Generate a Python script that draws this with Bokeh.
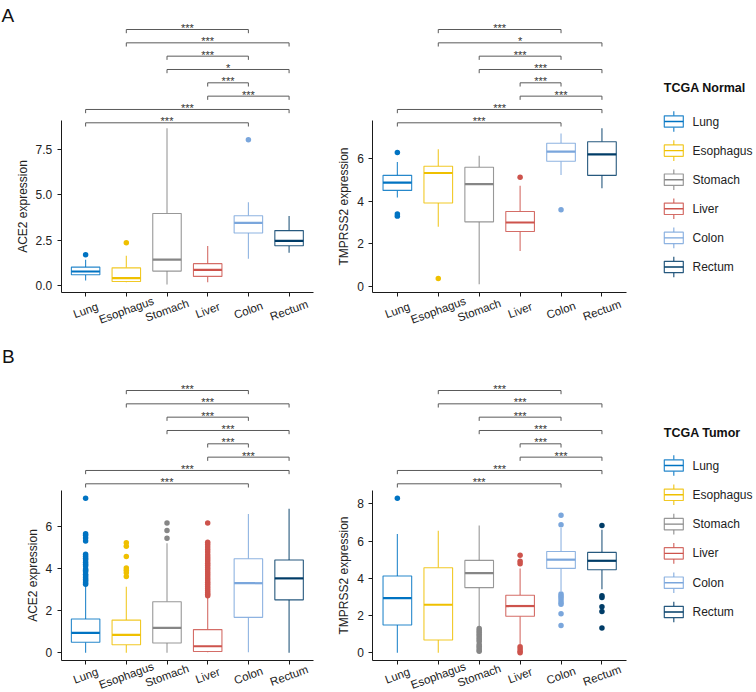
import numpy as np
from bokeh.plotting import figure
from bokeh.models import Range1d, FixedTicker, ColumnDataSource
from bokeh.layouts import row, column
from bokeh.embed import file_html
from bokeh.resources import INLINE
from bokeh.core.properties import value

# ------------------------------------------------------------------ data
tissues = ["Lung", "Esophagus", "Stomach", "Liver", "Colon", "Rectum"]

# pairwise comparisons (same order in every panel, top bracket first)
comp_a = ["Esophagus", "Esophagus", "Stomach", "Stomach", "Liver", "Liver", "Lung", "Lung"]
comp_b = ["Colon", "Rectum", "Colon", "Rectum", "Colon", "Rectum", "Rectum", "Colon"]

# A - TCGA Normal - ACE2
ace2_normal_lower = [0.28, 0.18, 0.06, 0.18, 1.47, 1.80]
ace2_normal_q1 = [0.59, 0.22, 0.79, 0.50, 2.89, 2.19]
ace2_normal_median = [0.77, 0.40, 1.42, 0.86, 3.44, 2.45]
ace2_normal_q3 = [1.01, 0.97, 3.96, 1.20, 3.84, 3.02]
ace2_normal_upper = [1.42, 1.64, 8.65, 2.17, 4.58, 3.83]
ace2_normal_out_tissue = ["Lung", "Esophagus", "Colon"]
ace2_normal_out_value = [1.69, 2.35, 8.02]
ace2_normal_sig = ["***", "***", "***", "*", "***", "***", "***", "***"]
ace2_normal_yticks = [0, 2.5, 5.0, 7.5]
ace2_normal_ytick_labels = ["0.0", "2.5", "5.0", "7.5"]
ace2_normal_ylim = [-0.37, 9.08]

# A - TCGA Normal - TMPRSS2
tmprss2_normal_lower = [4.17, 2.79, 0.08, 1.65, 5.23, 4.60]
tmprss2_normal_q1 = [4.50, 3.91, 3.02, 2.57, 5.87, 5.21]
tmprss2_normal_median = [4.87, 5.32, 4.80, 2.99, 6.33, 6.20]
tmprss2_normal_q3 = [5.21, 5.64, 5.59, 3.51, 6.72, 6.79]
tmprss2_normal_upper = [5.84, 6.44, 6.13, 4.72, 7.18, 7.42]
tmprss2_normal_out_tissue = ["Lung", "Lung", "Lung", "Esophagus", "Liver", "Colon"]
tmprss2_normal_out_value = [6.28, 3.39, 3.29, 0.35, 5.12, 3.59]
tmprss2_normal_sig = ["***", "*", "***", "***", "***", "***", "***", "***"]
tmprss2_normal_yticks = [0, 2, 4, 6]
tmprss2_normal_ytick_labels = ["0", "2", "4", "6"]
tmprss2_normal_ylim = [-0.29, 7.79]

# B - TCGA Tumor - ACE2
ace2_tumor_lower = [0.0, 0.0, 0.0, 0.03, 0.03, 0.0]
ace2_tumor_q1 = [0.50, 0.38, 0.46, 0.06, 1.68, 2.51]
ace2_tumor_median = [0.94, 0.85, 1.18, 0.31, 3.30, 3.53]
ace2_tumor_q3 = [1.60, 1.55, 2.42, 1.10, 4.46, 4.40]
ace2_tumor_upper = [3.17, 3.13, 5.20, 2.65, 6.58, 6.83]
ace2_tumor_out_tissue = (["Lung"] * 22 + ["Esophagus"] * 7 + ["Stomach"] * 3 + ["Liver"] * 27)
ace2_tumor_out_value = [
    3.25, 3.32, 3.40, 3.48, 3.56, 3.64, 3.72, 3.85, 3.92, 3.98, 4.12, 4.20, 4.30, 4.40,
    4.48, 4.58, 4.68, 5.30, 5.45, 5.58, 5.65, 7.33,
    3.62, 3.80, 3.92, 4.02, 4.57, 5.06, 5.22,
    5.43, 5.80, 6.16,
    2.70, 2.78, 2.86, 2.95, 3.05, 3.15, 3.25, 3.35, 3.45, 3.55, 3.65, 3.75, 3.85, 3.95,
    4.05, 4.15, 4.25, 4.35, 4.45, 4.55, 4.65, 4.78, 4.90, 5.02, 5.14, 5.25, 6.16,
]
ace2_tumor_sig = ["***", "***", "***", "***", "***", "***", "***", "***"]
ace2_tumor_yticks = [0, 2, 4, 6]
ace2_tumor_ytick_labels = ["0", "2", "4", "6"]
ace2_tumor_ylim = [-0.367, 7.70]

# B - TCGA Tumor - TMPRSS2
tmprss2_tumor_lower = [0.0, 0.0, 1.38, 0.47, 3.32, 3.41]
tmprss2_tumor_q1 = [1.49, 0.69, 3.50, 1.96, 4.53, 4.46]
tmprss2_tumor_median = [2.93, 2.58, 4.28, 2.51, 5.00, 4.94]
tmprss2_tumor_q3 = [4.12, 4.57, 4.96, 3.09, 5.44, 5.39]
tmprss2_tumor_upper = [6.38, 6.56, 6.84, 4.53, 6.70, 6.61]
tmprss2_tumor_out_tissue = (["Lung"] + ["Stomach"] * 13 + ["Liver"] * 7 + ["Colon"] * 10 + ["Rectum"] * 6)
tmprss2_tumor_out_value = [
    8.30,
    0.08, 0.15, 0.25, 0.35, 0.45, 0.60, 0.70, 0.80, 0.90, 1.00, 1.10, 1.20, 1.30,
    4.78, 4.92, 5.24, 0.00, 0.08, 0.20, 0.32,
    7.38, 6.88, 3.15, 3.05, 2.95, 2.83, 2.70, 2.61, 2.10, 1.46,
    6.83, 3.06, 2.97, 2.47, 2.22, 1.33,
]
tmprss2_tumor_sig = ["***", "***", "***", "***", "***", "***", "***", "***"]
tmprss2_tumor_yticks = [0, 2, 4, 6, 8]
tmprss2_tumor_ytick_labels = ["0", "2", "4", "6", "8"]
tmprss2_tumor_ylim = [-0.415, 8.715]

# ------------------------------------------------------------------ style
FONT = "Liberation Sans"
INK = "#1a1a1a"
TEXT = "#222222"
BRACKET = "#5a5a5a"
tissue_colors = ["#0073C2", "#EFC000", "#868686", "#CD534C", "#7AA6DC", "#003C67"]
BOX_HALF = 0.35
X_LO, X_HI = 0.4, 6.6
BRACKET_STEP_PX = 13.33
TIP_PX = 3.7
XLABEL_ANGLE = np.deg2rad(20)


def box_panel(width, height, ax_left, ax_right, ax_top, ax_bottom,
              lower, q1, med, q3, upper, out_t, out_v, sig, ylim, yticks,
              ytick_labels, ylabel, bracket_px0, xlabel_drop,
              letter=None, letter_xy=(0, 0)):
    """ax_* are pixel positions (inside this canvas) of the axis box."""
    lo, hi = ylim
    ppc = (ax_right - ax_left) / (X_HI - X_LO)
    ppu = (ax_bottom - ax_top) / (hi - lo)
    xs = X_LO - ax_left / ppc
    xe = xs + width / ppc
    ye = lo + ax_bottom / ppu
    ys = ye - height / ppu

    def Y(py):
        return ye - py / ppu

    def X(px):
        return xs + px / ppc

    p = figure(width=width, height=height, x_range=Range1d(xs, xe),
               y_range=Range1d(ys, ye), output_backend="svg",
               toolbar_location=None, min_border=0)
    p.outline_line_color = None
    p.grid.visible = False
    p.background_fill_color = "white"
    p.border_fill_color = "white"

    pos = {t: i + 1 for i, t in enumerate(tissues)}
    x = np.arange(1, len(tissues) + 1, dtype=float)
    src = ColumnDataSource(dict(x=x, left=x - BOX_HALF, right=x + BOX_HALF,
                                lower=lower, q1=q1, med=med, q3=q3,
                                upper=upper, color=tissue_colors))
    p.segment(x0="x", y0="q3", x1="x", y1="upper", line_color="color",
              line_width=1.1, line_alpha=0.85, source=src)
    p.segment(x0="x", y0="q1", x1="x", y1="lower", line_color="color",
              line_width=1.1, line_alpha=0.85, source=src)
    p.quad(left="left", right="right", bottom="q1", top="q3",
           fill_color="white", line_color="color", line_width=1.1,
           line_alpha=0.85, source=src)
    p.segment(x0="left", y0="med", x1="right", y1="med", line_color="color",
              line_width=2.2, source=src)
    oc = [tissue_colors[pos[t] - 1] for t in out_t]
    p.scatter(x=[pos[t] for t in out_t], y=out_v, size=5.5, fill_color=oc,
              line_color=None)

    # significance brackets
    xa = np.array([pos[a] for a in comp_a], dtype=float)
    xb = np.array([pos[b] for b in comp_b], dtype=float)
    k = np.arange(len(comp_a))
    yb = Y(bracket_px0 + k * BRACKET_STEP_PX)
    tip = TIP_PX / ppu
    p.segment(x0=xa, y0=yb, x1=xb, y1=yb, line_color=BRACKET, line_width=1)
    p.segment(x0=xa, y0=yb, x1=xa, y1=yb - tip, line_color=BRACKET, line_width=1)
    p.segment(x0=xb, y0=yb, x1=xb, y1=yb - tip, line_color=BRACKET, line_width=1)
    p.text(x=(xa + xb) / 2, y=yb, text=sig, text_align="center",
           text_baseline="alphabetic", y_offset=-1.5,
           text_font=value(FONT), text_font_size="11px", text_color="#333333")

    # axes, pinned to the data box
    for ax in (p.xaxis[0], p.yaxis[0]):
        ax.axis_line_color = INK
        ax.axis_line_width = 1
        ax.major_tick_line_color = INK
        ax.major_tick_out = 4
        ax.major_tick_in = 0
        ax.minor_tick_out = 0
        ax.minor_tick_in = 0
        ax.major_label_text_font = FONT
        ax.major_label_text_font_size = "12px"
        ax.major_label_text_color = TEXT
    p.xaxis.fixed_location = lo
    p.xaxis.bounds = (X_LO, X_HI)
    p.xaxis.ticker = FixedTicker(ticks=list(x))
    p.xaxis.major_label_overrides = {float(v): "" for v in x}
    p.xaxis.major_label_standoff = 0
    p.yaxis.fixed_location = X_LO
    p.yaxis.bounds = (lo, hi)
    p.yaxis.ticker = FixedTicker(ticks=yticks)
    p.yaxis.major_label_overrides = {float(v): s for v, s in zip(yticks, ytick_labels)}
    p.yaxis.major_label_standoff = 5
    p.yaxis.axis_label = ylabel
    p.yaxis.axis_label_text_font = FONT
    p.yaxis.axis_label_text_font_size = "12px"
    p.yaxis.axis_label_text_font_style = "normal"
    p.yaxis.axis_label_text_color = TEXT
    p.yaxis.axis_label_standoff = 3

    # rotated category labels centred on the ticks
    p.text(x=x, y=[lo] * len(x), text=tissues, angle=XLABEL_ANGLE,
           y_offset=xlabel_drop, text_align="center", text_baseline="middle",
           text_font=value(FONT), text_font_size="11.5px", text_color=TEXT)
    if letter:
        p.text(x=[X(letter_xy[0])], y=[Y(letter_xy[1])], text=[letter],
               text_align="left", text_baseline="alphabetic",
               text_font=value(FONT), text_font_size="19px",
               text_color="#111111")
    return p


def legend_fig(width, height, title, title_y, item_y0, item_step):
    p = figure(width=width, height=height, x_range=Range1d(0, width),
               y_range=Range1d(height, 0), output_backend="svg",
               toolbar_location=None, x_axis_type=None, y_axis_type=None,
               min_border=0)
    p.outline_line_color = None
    p.grid.visible = False
    cx, hw, hh, wh = 28.3, 9.5, 5.7, 4.6
    n = len(tissues)
    cy = item_y0 + np.arange(n) * item_step
    src = ColumnDataSource(dict(cy=cy, cx=[cx] * n, l=[cx - hw] * n,
                                r=[cx + hw] * n, t=cy - hh, b=cy + hh,
                                wt=cy - hh - wh, wb=cy + hh + wh,
                                color=tissue_colors, text=tissues,
                                tx=[47.0] * n))
    p.segment(x0="cx", y0="t", x1="cx", y1="wt", line_color="color",
              line_width=1.2, line_alpha=0.85, source=src)
    p.segment(x0="cx", y0="b", x1="cx", y1="wb", line_color="color",
              line_width=1.2, line_alpha=0.85, source=src)
    p.quad(left="l", right="r", top="t", bottom="b", fill_color="white",
           line_color="color", line_width=1.2, line_alpha=0.85, source=src)
    p.segment(x0="l", y0="cy", x1="r", y1="cy", line_color="color",
              line_width=1.4, source=src)
    p.text(x="tx", y="cy", text="text", text_baseline="middle",
           text_align="left", text_font=value(FONT), text_font_size="12px",
           text_color=TEXT, source=src)
    p.text(x=[18.3], y=[title_y], text=[title], text_baseline="middle",
           text_align="left", text_font=value(FONT), text_font_size="12.5px",
           text_font_style="bold", text_color="#111111")
    return p


ROW_A_H, ROW_B_H = 328, 364
W_LEFT, W_RIGHT, W_LEG = 333, 312, 111

a1 = box_panel(W_LEFT, ROW_A_H, 60.7, 313.0, 120.0, 291.7,
               ace2_normal_lower, ace2_normal_q1, ace2_normal_median,
               ace2_normal_q3, ace2_normal_upper, ace2_normal_out_tissue,
               ace2_normal_out_value, ace2_normal_sig, ace2_normal_ylim,
               ace2_normal_yticks, ace2_normal_ytick_labels, "ACE2 expression",
               29.0, 18, "A", (1.0, 15.0))
a2 = box_panel(W_RIGHT, ROW_A_H, 39.3, 293.0, 120.0, 291.7,
               tmprss2_normal_lower, tmprss2_normal_q1, tmprss2_normal_median,
               tmprss2_normal_q3, tmprss2_normal_upper, tmprss2_normal_out_tissue,
               tmprss2_normal_out_value, tmprss2_normal_sig, tmprss2_normal_ylim,
               tmprss2_normal_yticks, tmprss2_normal_ytick_labels,
               "TMPRSS2 expression", 29.0, 18)
la = legend_fig(W_LEG, ROW_A_H, "TCGA Normal", 87.7, 121.0, 29.1)

b1 = box_panel(W_LEFT, ROW_B_H, 60.7, 313.0, 162.0, 332.0,
               ace2_tumor_lower, ace2_tumor_q1, ace2_tumor_median,
               ace2_tumor_q3, ace2_tumor_upper, ace2_tumor_out_tissue,
               ace2_tumor_out_value, ace2_tumor_sig, ace2_tumor_ylim,
               ace2_tumor_yticks, ace2_tumor_ytick_labels, "ACE2 expression",
               62.0, 15, "B", (1.5, 28.0))
b2 = box_panel(W_RIGHT, ROW_B_H, 39.3, 293.0, 162.0, 332.0,
               tmprss2_tumor_lower, tmprss2_tumor_q1, tmprss2_tumor_median,
               tmprss2_tumor_q3, tmprss2_tumor_upper, tmprss2_tumor_out_tissue,
               tmprss2_tumor_out_value, tmprss2_tumor_sig, tmprss2_tumor_ylim,
               tmprss2_tumor_yticks, tmprss2_tumor_ytick_labels,
               "TMPRSS2 expression", 62.0, 15)
lb = legend_fig(W_LEG, ROW_B_H, "TCGA Tumor", 104.7, 137.0, 29.3)

layout = column(row(a1, a2, la), row(b1, b2, lb))

with open("out.html", "w") as f:
    f.write(file_html(layout, INLINE))
